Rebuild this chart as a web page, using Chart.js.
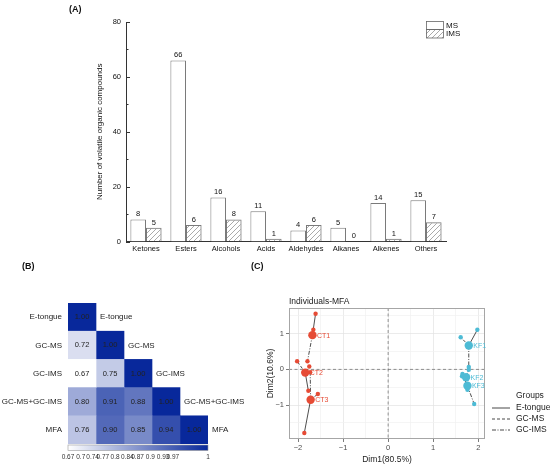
<!DOCTYPE html>
<html>
<head>
<meta charset="utf-8">
<title>Volatile compounds, correlation and MFA</title>
<script src="https://cdn.jsdelivr.net/npm/chart.js"></script>
<style>
body { margin:0; background:#fff; }
#wrap { position:relative; width:550px; height:469px; overflow:hidden; font-family:"Liberation Sans", Arial, sans-serif; }
canvas { position:absolute; }
.txt { position:absolute; line-height:1; color:#111; white-space:nowrap; }
</style>
</head>
<body>
<div id="wrap">
<canvas id="barChart" style="left:0;top:0" width="550" height="262"></canvas>
<canvas id="corrChart" style="left:0;top:262px" width="262" height="207"></canvas>
<canvas id="mfaChart" style="left:262px;top:290px" width="288" height="179"></canvas>
<div class="txt" style="left:69px;top:5px;font-size:9px;font-weight:bold">(A)</div>
<div class="txt" style="left:22px;top:262px;font-size:9px;font-weight:bold">(B)</div>
<div class="txt" style="left:251px;top:262px;font-size:9px;font-weight:bold">(C)</div>
<div class="txt" style="left:289px;top:297px;font-size:8.5px;color:#222">Individuals-MFA</div>
</div>

<script>
Chart.defaults.font.family = '"Liberation Sans", Arial, sans-serif';

// (A) number of compounds per class
const categories = ['Ketones', 'Esters', 'Alcohols', 'Acids', 'Aldehydes', 'Alkanes', 'Alkenes', 'Others'];
const msCounts = [8, 66, 16, 11, 4, 5, 14, 15];
const imsCounts = [5, 6, 8, 1, 6, 0, 1, 7];

// (B) correlation matrix, lower triangle
const matrixLabels = ['E-tongue', 'GC-MS', 'GC-IMS', 'GC-MS+GC-IMS', 'MFA'];
const rEtongue = [1.00];
const rGcms = [0.72, 1.00];
const rGcims = [0.67, 0.75, 1.00];
const rCombined = [0.80, 0.91, 0.88, 1.00];
const rMfa = [0.76, 0.90, 0.85, 0.94, 1.00];
const colorbarTicks = [0.67, 0.70, 0.728, 0.752, 0.781, 0.81, 0.834, 0.864, 0.894, 0.917, 1];
const colorbarLabels = ['0.67', '0.7', '0.74', '0.77', '0.8', '0.84', '0.87', '0.9', '0.93', '0.97', '1'];

// (C) MFA individuals: mean points and partial points per group
const individuals = ['CT1', 'CT2', 'CT3', 'KF1', 'KF2', 'KF3'];
const meanX = [-1.68, -1.84, -1.72, 1.79, 1.73, 1.76];
const meanY = [0.96, -0.09, -0.85, 0.67, -0.22, -0.46];
const etongueX = [-1.61, -1.77, -1.86, 1.98, 1.64, 1.65];
const etongueY = [1.56, -0.60, -1.78, 1.11, -0.19, -0.13];
const gcmsX = [-1.66, -2.02, -1.56, 1.61, 1.76, 1.70];
const gcmsY = [1.11, 0.23, -0.69, 0.90, -0.57, -0.23];
const gcimsX = [-1.79, -1.75, -1.73, 1.79, 1.79, 1.91];
const gcimsY = [0.23, 0.08, -0.08, 0.07, -0.01, -0.97];
const dimXTicks = [-2, -1.5, -1, -0.5, 0, 0.5, 1, 1.5, 2];
const dimYTicks = [-1.5, -1, -0.5, 0, 0.5, 1, 1.5];

// ---------- (A) ----------
const barCanvas = document.getElementById('barChart');
const hatchTile = document.createElement('canvas');
hatchTile.width = 5; hatchTile.height = 5;
const ht = hatchTile.getContext('2d');
ht.strokeStyle = '#858585';
ht.lineWidth = 0.7;
ht.beginPath();
ht.moveTo(0, 5); ht.lineTo(5, 0);
ht.moveTo(-1, 1); ht.lineTo(1, -1);
ht.moveTo(4, 6); ht.lineTo(6, 4);
ht.stroke();
const hatch = barCanvas.getContext('2d').createPattern(hatchTile, 'repeat');

const barExtras = {
  id: 'barExtras',
  afterDraw(chart) {
    const ctx = chart.ctx, area = chart.chartArea, y = chart.scales.y;
    ctx.save();
    // inward ticks
    ctx.strokeStyle = '#333';
    ctx.lineWidth = 1;
    for (let v = 0; v <= 80; v += 10) {
      const py = Math.round(y.getPixelForValue(v)) + 0.5;
      ctx.beginPath();
      ctx.moveTo(area.left, py);
      ctx.lineTo(area.left + (v % 20 === 0 ? 4 : 2.5), py);
      ctx.stroke();
    }
    // value labels
    ctx.fillStyle = '#111';
    ctx.font = '7.5px "Liberation Sans", Arial, sans-serif';
    ctx.textAlign = 'center';
    ctx.textBaseline = 'bottom';
    chart.data.datasets.forEach((ds, di) => {
      chart.getDatasetMeta(di).data.forEach((el, i) => {
        ctx.fillText(String(ds.data[i]), el.x, el.y - 1.5);
      });
    });
    // legend
    const lx = 426, lw = 17;
    ctx.lineWidth = 0.8;
    ctx.strokeStyle = '#666';
    ctx.fillStyle = '#fff';
    ctx.fillRect(lx, 21, lw, 8.5);
    ctx.strokeRect(lx + 0.5, 21.5, lw, 8);
    ctx.fillStyle = hatch;
    ctx.fillRect(lx, 29.5, lw, 8.5);
    ctx.strokeRect(lx + 0.5, 29.5, lw, 8.5);
    ctx.fillStyle = '#111';
    ctx.font = '8px "Liberation Sans", Arial, sans-serif';
    ctx.textAlign = 'left';
    ctx.textBaseline = 'middle';
    ctx.fillText(chart.data.datasets[0].label, lx + lw + 3, 25.5);
    ctx.fillText(chart.data.datasets[1].label, lx + lw + 3, 34);
    ctx.restore();
  }
};

new Chart(barCanvas, {
  type: 'bar',
  data: {
    labels: categories,
    datasets: [
      { label: 'MS', data: msCounts, backgroundColor: '#fff', borderColor: '#7a7a7a', borderWidth: 1,
        categoryPercentage: 0.78, barPercentage: 1 },
      { label: 'IMS', data: imsCounts, backgroundColor: hatch, borderColor: '#7a7a7a', borderWidth: 1,
        categoryPercentage: 0.78, barPercentage: 1 }
    ]
  },
  options: {
    responsive: false,
    animation: false,
    layout: { padding: { left: 91, right: 104, top: 22, bottom: 0 } },
    plugins: { legend: { display: false }, tooltip: { enabled: false } },
    scales: {
      x: {
        grid: { display: false, drawTicks: false },
        border: { color: '#333', width: 1 },
        ticks: { padding: 3, color: '#111', font: { size: 7.5 }, autoSkip: false, maxRotation: 0, minRotation: 0 },
        afterFit(s) { s.height = 20.5; }
      },
      y: {
        min: 0, max: 80,
        grid: { display: false, drawTicks: false },
        border: { color: '#333', width: 1 },
        ticks: { stepSize: 20, padding: 5, color: '#111', font: { size: 7.5 } },
        title: { display: true, text: 'Number of volatile organic compounds', color: '#111',
                 font: { size: 8 }, padding: { top: 4, bottom: 0 } },
        afterFit(s) { s.width = 35; }
      }
    }
  },
  plugins: [barExtras]
});

// ---------- (B) ----------
const corrRows = [rEtongue, rGcms, rGcims, rCombined, rMfa];
const lowColor = [255, 255, 255], highColor = [8, 40, 155];
function corrColor(v) {
  const t = Math.max(0, Math.min(1, (v - 0.67) / (1 - 0.67)));
  const c = lowColor.map((lo, k) => Math.round(lo + (highColor[k] - lo) * t));
  return 'rgb(' + c.join(',') + ')';
}

const corrExtras = {
  id: 'corrExtras',
  afterDraw(chart) {
    const ctx = chart.ctx, area = chart.chartArea, cb = chart.scales.cb;
    ctx.save();
    ctx.textBaseline = 'middle';
    chart.data.datasets.forEach((ds, c) => {
      chart.getDatasetMeta(c).data.forEach((el, i) => {
        if (i < c) return;
        const cx = (el.x + el.base) / 2;
        ctx.fillStyle = '#222';
        ctx.font = '7.5px "Liberation Sans", Arial, sans-serif';
        ctx.textAlign = 'center';
        ctx.fillText(corrRows[i][c].toFixed(2), cx, el.y);
        if (i === c) {
          ctx.font = '8px "Liberation Sans", Arial, sans-serif';
          ctx.textAlign = 'left';
          ctx.fillText(matrixLabels[i], Math.max(el.x, el.base) + 4, el.y);
        }
      });
    });
    // colour bar
    const x0 = cb.getPixelForValue(0.67), x1 = cb.getPixelForValue(1);
    const top = area.bottom + 1, h = 5.5;
    const grad = ctx.createLinearGradient(x0, 0, x1, 0);
    grad.addColorStop(0, corrColor(0.67));
    grad.addColorStop(1, corrColor(1));
    ctx.fillStyle = grad;
    ctx.fillRect(x0, top, x1 - x0, h);
    ctx.strokeStyle = '#999';
    ctx.lineWidth = 0.6;
    ctx.strokeRect(x0, top, x1 - x0, h);
    ctx.restore();
  }
};

new Chart(document.getElementById('corrChart'), {
  type: 'bar',
  data: {
    labels: matrixLabels,
    datasets: matrixLabels.map((name, c) => ({
      label: name,
      data: corrRows.map((row, i) => (i >= c ? [c, c + 1] : null)),
      backgroundColor: corrRows.map((row, i) => (i >= c ? corrColor(row[c]) : 'rgba(0,0,0,0)')),
      borderWidth: 0,
      barPercentage: 1,
      categoryPercentage: 1,
      grouped: false,
      xAxisID: 'x'
    }))
  },
  options: {
    indexAxis: 'y',
    responsive: false,
    animation: false,
    layout: { padding: { left: 0, right: 54, top: 41, bottom: 0 } },
    plugins: { legend: { display: false }, tooltip: { enabled: false } },
    scales: {
      x: { type: 'linear', min: 0, max: 5, display: false },
      cb: {
        type: 'linear', axis: 'x', position: 'bottom', min: 0.67, max: 1,
        afterBuildTicks(s) { s.ticks = colorbarTicks.map(v => ({ value: v })); },
        ticks: { autoSkip: false, maxRotation: 0, padding: 9, color: '#333', font: { size: 6.5 },
                 callback: (v, i) => colorbarLabels[i] },
        grid: { display: false, drawTicks: false },
        border: { display: false },
        afterFit(s) { s.height = 25; }
      },
      y: {
        type: 'category',
        grid: { display: false, drawTicks: false },
        border: { display: false },
        ticks: { padding: 6, color: '#222', font: { size: 8 } },
        afterFit(s) { s.width = 68; }
      }
    }
  },
  plugins: [corrExtras]
});

// ---------- (C) ----------
const ctColor = '#E64B35', kfColor = '#4DBBD5';
const groupNames = ['E-tongue', 'GC-MS', 'GC-IMS'];
const groupDash = [[], [3, 2], [4, 1.5, 1, 1.5]];
const partialX = [etongueX, gcmsX, gcimsX];
const partialY = [etongueY, gcmsY, gcimsY];
const indColor = individuals.map(n => (n.startsWith('CT') ? ctColor : kfColor));

const mfaDatasets = [];
individuals.forEach((name, i) => {
  groupNames.forEach((g, k) => {
    mfaDatasets.push({
      type: 'line', label: name + ' ' + g,
      data: [{ x: meanX[i], y: meanY[i] }, { x: partialX[k][i], y: partialY[k][i] }],
      borderColor: '#3a3a3a', borderWidth: 0.9, borderDash: groupDash[k],
      pointRadius: 0, fill: false, order: 3
    });
  });
});
mfaDatasets.push({
  type: 'scatter', label: 'partial',
  data: individuals.flatMap((n, i) => partialX.map((px, k) => ({ x: px[i], y: partialY[k][i] }))),
  backgroundColor: individuals.flatMap((n, i) => partialX.map(() => indColor[i])),
  borderWidth: 0, pointRadius: 2.2, order: 2
});
mfaDatasets.push({
  type: 'scatter', label: 'mean',
  data: individuals.map((n, i) => ({ x: meanX[i], y: meanY[i] })),
  backgroundColor: indColor, borderWidth: 0, pointRadius: 4.2, order: 1
});

const mfaExtras = {
  id: 'mfaExtras',
  beforeDatasetsDraw(chart) {
    const ctx = chart.ctx, a = chart.chartArea, sx = chart.scales.x, sy = chart.scales.y;
    ctx.save();
    ctx.strokeStyle = '#666';
    ctx.lineWidth = 0.7;
    ctx.setLineDash([3, 2.5]);
    const x0 = sx.getPixelForValue(0), y0 = sy.getPixelForValue(0);
    ctx.beginPath();
    ctx.moveTo(x0, a.top); ctx.lineTo(x0, a.bottom);
    ctx.moveTo(a.left, y0); ctx.lineTo(a.right, y0);
    ctx.stroke();
    ctx.restore();
  },
  afterDraw(chart) {
    const ctx = chart.ctx, a = chart.chartArea, sx = chart.scales.x, sy = chart.scales.y;
    ctx.save();
    ctx.strokeStyle = '#a6a6a6';
    ctx.lineWidth = 1;
    ctx.strokeRect(a.left + 0.5, a.top + 0.5, a.right - a.left - 1, a.bottom - a.top - 1);
    ctx.font = '7px "Liberation Sans", Arial, sans-serif';
    ctx.textAlign = 'left';
    ctx.textBaseline = 'middle';
    individuals.forEach((name, i) => {
      ctx.fillStyle = indColor[i];
      ctx.fillText(name, sx.getPixelForValue(meanX[i]) + 4.5, sy.getPixelForValue(meanY[i]) + 0.5);
    });
    // legend
    ctx.fillStyle = '#222';
    ctx.font = '8.5px "Liberation Sans", Arial, sans-serif';
    ctx.fillText('Groups', 254, 106);
    ctx.strokeStyle = '#333';
    ctx.lineWidth = 0.9;
    groupNames.forEach((g, k) => {
      const ly = 118 + k * 11;
      ctx.setLineDash(groupDash[k]);
      ctx.beginPath();
      ctx.moveTo(230, ly); ctx.lineTo(248, ly);
      ctx.stroke();
      ctx.fillText(g, 254, ly);
    });
    ctx.restore();
  }
};

const isWhole = v => Math.abs(v - Math.round(v)) < 1e-6;
const fmtDim = v => (v < 0 ? '\u2212' + Math.abs(v) : String(v));

new Chart(document.getElementById('mfaChart'), {
  type: 'scatter',
  data: { datasets: mfaDatasets },
  options: {
    responsive: false,
    animation: false,
    layout: { padding: { left: 0, right: 65, top: 18, bottom: 0 } },
    plugins: { legend: { display: false }, tooltip: { enabled: false } },
    scales: {
      x: {
        type: 'linear', min: -2.2, max: 2.15,
        afterBuildTicks(s) { s.ticks = dimXTicks.map(v => ({ value: v })); },
        grid: {
          color: c => (isWhole(c.tick.value) ? '#e2e2e2' : '#f1f1f1'), lineWidth: 0.7,
          tickColor: c => (isWhole(c.tick.value) ? '#444' : 'rgba(0,0,0,0)'), tickLength: 3
        },
        border: { display: false },
        ticks: { autoSkip: false, maxRotation: 0, padding: 1, color: '#4d4d4d', font: { size: 7.5 },
                 callback: v => (isWhole(v) ? fmtDim(v) : '') },
        title: { display: true, text: 'Dim1(80.5%)', color: '#222', font: { size: 8.5 }, padding: { top: 4, bottom: 4 } },
        afterFit(s) { s.height = 30; }
      },
      y: {
        type: 'linear', min: -1.95, max: 1.72,
        afterBuildTicks(s) { s.ticks = dimYTicks.map(v => ({ value: v })); },
        grid: {
          color: c => (isWhole(c.tick.value) ? '#e2e2e2' : '#f1f1f1'), lineWidth: 0.7,
          tickColor: c => (isWhole(c.tick.value) ? '#444' : 'rgba(0,0,0,0)'), tickLength: 3
        },
        border: { display: false },
        ticks: { autoSkip: false, padding: 2, color: '#4d4d4d', font: { size: 7.5 },
                 callback: v => (isWhole(v) ? fmtDim(v) : '') },
        title: { display: true, text: 'Dim2(10.6%)', color: '#222', font: { size: 8.5 }, padding: { top: 4, bottom: 4 } },
        afterFit(s) { s.width = 27; }
      }
    }
  },
  plugins: [mfaExtras]
});
</script>
</body>
</html>
